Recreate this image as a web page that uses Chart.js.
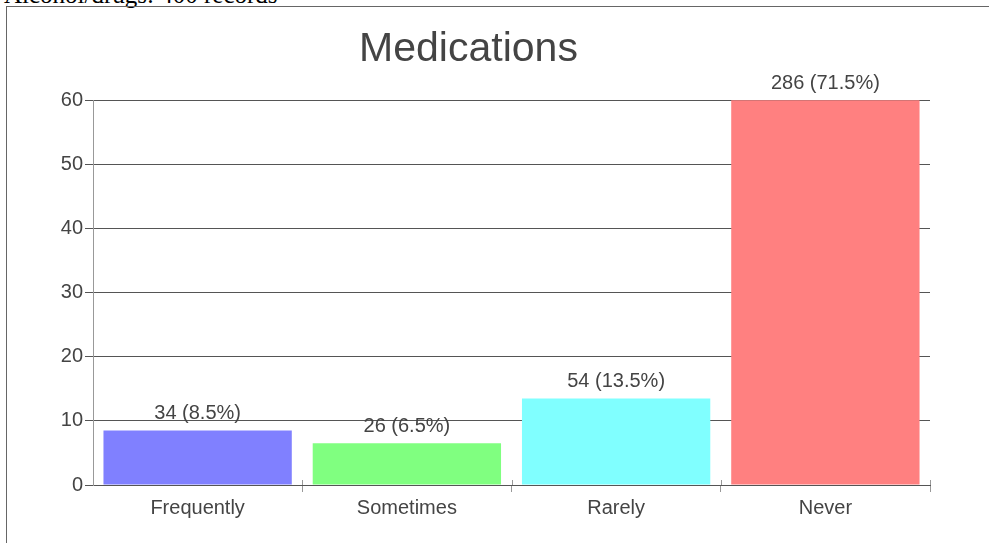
<!DOCTYPE html>
<html lang="en">
<head>
    <meta charset="UTF-8">
    <title>Medications</title>
    <script src="https://cdn.jsdelivr.net/npm/chart.js"></script>
</head>
<style>
    body{
        margin: 0;
        background: #fff;
        overflow: hidden;
    }
    .caption{
        position: absolute;
        left: 4px;
        top: -18px;
        font-family: "Liberation Serif", serif;
        font-size: 25px;
        line-height: 25px;
        color: #000;
        white-space: nowrap;
    }
    .frame{
        position: absolute;
        left: 6px;
        top: 6px;
        width: 1000px;
        height: 600px;
        border: 1px solid #666;
    }
    #medications{
        position: absolute;
        left: 7px;
        top: 8px;
    }
</style>
<body>
<div class="caption">Alcohol/drugs: 400 records</div>
<div class="frame"></div>
<canvas id="medications" width="924" height="535"></canvas>
<script>
    const categories = ['Frequently', 'Sometimes', 'Rarely', 'Never'];
    const counts = [34, 26, 54, 286];
    const percents = [8.5, 6.5, 13.5, 71.5];
    const barColors = ['#8080ff', '#80ff80', '#80ffff', '#ff8080'];
    const yTicks = [0, 10, 20, 30, 40, 50, 60];

    const font = 'Liberation Sans';

    // value labels above each bar, kept inside the top of the plot when clipped
    const barLabels = {
        id: 'barLabels',
        afterDatasetsDraw(chart) {
            const ctx = chart.ctx;
            const meta = chart.getDatasetMeta(0);
            ctx.save();
            ctx.font = '20px ' + font;
            ctx.fillStyle = '#444';
            ctx.textAlign = 'center';
            ctx.textBaseline = 'alphabetic';
            meta.data.forEach((bar, i) => {
                let y = Math.max(bar.y, chart.chartArea.top);
                ctx.fillText(counts[i] + ' (' + percents[i] + '%)', bar.x, y - 11);
            });
            ctx.restore();
        }
    };

    // small marks above the x axis at the category boundaries
    const upTicks = {
        id: 'upTicks',
        afterDraw(chart) {
            const ctx = chart.ctx;
            const x = chart.scales.x;
            const bottom = chart.chartArea.bottom;
            ctx.save();
            ctx.strokeStyle = '#999';
            ctx.lineWidth = 1;
            for (let i = 1; i <= categories.length; i++) {
                let px = Math.round(x.getPixelForValue(i - 0.5)) + 0.5;
                ctx.beginPath();
                ctx.moveTo(px, bottom - 5);
                ctx.lineTo(px, bottom);
                ctx.stroke();
            }
            ctx.restore();
        }
    };

    new Chart(document.getElementById('medications'), {
        type: 'bar',
        plugins: [barLabels, upTicks],
        data: {
            labels: categories,
            datasets: [{
                data: percents,
                backgroundColor: barColors,
                borderWidth: 0,
                barPercentage: 0.9,
                categoryPercentage: 1
            }]
        },
        options: {
            responsive: false,
            animation: false,
            layout: {padding: {left: 0, right: 1, top: 0, bottom: 0}},
            plugins: {
                legend: {display: false},
                tooltip: {enabled: false},
                title: {
                    display: true,
                    text: 'Medications',
                    color: '#444',
                    font: {family: font, size: 41, weight: 'normal'},
                    padding: {top: 17, bottom: 26}
                }
            },
            scales: {
                x: {
                    afterFit: (s) => { s.height = 58; },
                    grid: {
                        offset: true,
                        drawOnChartArea: false,
                        tickLength: 7,
                        color: (c) => c.index === 0 ? 'rgba(0,0,0,0)' : '#999'
                    },
                    border: {color: '#555'},
                    ticks: {color: '#444', font: {family: font, size: 20}, padding: 4}
                },
                y: {
                    min: yTicks[0],
                    max: yTicks[yTicks.length - 1],
                    afterFit: (s) => { s.width = 86; },
                    afterBuildTicks: (s) => { s.ticks = yTicks.map(v => ({value: v})); },
                    grid: {color: '#555', tickLength: 8},
                    border: {color: '#999'},
                    ticks: {color: '#444', font: {family: font, size: 20}, padding: 2}
                }
            }
        }
    });
</script>
</body>
</html>
